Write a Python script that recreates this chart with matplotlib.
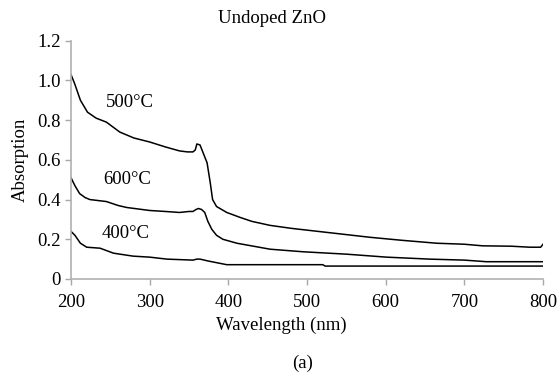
import matplotlib.pyplot as plt

plt.rcParams['font.family'] = ['Liberation Serif', 'DejaVu Serif']

# wavelength (nm) / absorption
wl_500 = [200, 205, 212, 221, 232, 245, 262, 280, 300, 320, 338, 348, 355, 358, 360, 364, 368, 373, 377, 380, 385, 398, 415, 430, 453, 480, 520, 580, 620, 665, 700, 723, 760, 783, 797, 800]
ab_500 = [1.03, 0.98, 0.90, 0.84, 0.81, 0.79, 0.74, 0.71, 0.69, 0.665, 0.645, 0.64, 0.64, 0.65, 0.68, 0.675, 0.635, 0.585, 0.485, 0.40, 0.365, 0.335, 0.31, 0.29, 0.27, 0.255, 0.237, 0.21, 0.195, 0.18, 0.175, 0.167, 0.165, 0.16, 0.16, 0.175]

wl_600 = [200, 205, 211, 218, 224, 245, 260, 271, 300, 320, 338, 350, 355, 359, 362, 366, 370, 374, 379, 385, 393, 411, 453, 495, 550, 601, 656, 700, 728, 800]
ab_600 = [0.51, 0.47, 0.43, 0.41, 0.40, 0.39, 0.37, 0.36, 0.345, 0.34, 0.335, 0.34, 0.34, 0.35, 0.355, 0.35, 0.335, 0.29, 0.25, 0.22, 0.20, 0.18, 0.15, 0.137, 0.125, 0.11, 0.10, 0.095, 0.087, 0.087]

wl_400 = [200, 205, 212, 220, 237, 254, 279, 300, 322, 355, 360, 364, 375, 398, 450, 520, 523, 800]
ab_400 = [0.24, 0.22, 0.18, 0.16, 0.155, 0.13, 0.115, 0.11, 0.10, 0.095, 0.10, 0.10, 0.09, 0.072, 0.072, 0.072, 0.065, 0.065]

labels = ['500°C', '600°C', '400°C']
label_x = [275, 271, 270]
label_y = [0.89, 0.50, 0.23]

xticks = [200, 300, 400, 500, 600, 700, 800]
yticks = [0, 0.2, 0.4, 0.6, 0.8, 1.0, 1.2]
ytick_labels = ['0', '0.2', '0.4', '0.6', '0.8', '1.0', '1.2']

fs = 13.5

fig = plt.figure(figsize=(5.58, 3.77), dpi=100)
ax = fig.add_axes([0.1272, 0.26, 0.846, 0.632])

for wl, ab in [(wl_500, ab_500), (wl_600, ab_600), (wl_400, ab_400)]:
    ax.plot(wl, ab, color='black', linewidth=1.1)

for lab, lx, ly in zip(labels, label_x, label_y):
    ax.text(lx, ly, lab, fontsize=fs, ha='center', va='center')

ax.set_xlim(200, 800)
ax.set_ylim(0, 1.2)
ax.set_xticks(xticks)
ax.set_yticks(yticks)
ax.set_yticklabels(ytick_labels)
ax.tick_params(labelsize=fs, color='#a8a8a8', length=4, width=1)
ax.tick_params(axis='x', pad=7)
for s in ['top', 'right']:
    ax.spines[s].set_visible(False)
for s in ['left', 'bottom']:
    ax.spines[s].set_color('#b0b0b0')
    ax.spines[s].set_linewidth(1.2)

ax.set_ylabel('Absorption', fontsize=fs, labelpad=6)
fig.text(0.505, 0.138, 'Wavelength (nm)', fontsize=fs, ha='center', va='center')
fig.text(0.487, 0.952, 'Undoped ZnO', fontsize=fs, ha='center', va='center')
fig.text(0.543, 0.037, '(a)', fontsize=fs, ha='center', va='center')

fig.savefig('out.png', dpi=100)
